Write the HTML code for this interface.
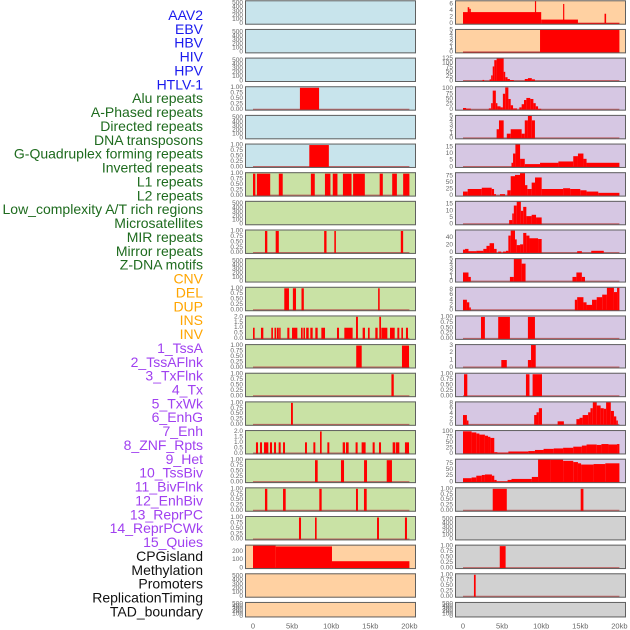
<!DOCTYPE html>
<html><head><meta charset="utf-8"><style>
html,body{margin:0;padding:0;background:#fff;}
svg{display:block;font-family:"Liberation Sans",sans-serif;}
</style></head><body>
<svg id="chart" width="630" height="630" viewBox="0 0 630 630" xmlns="http://www.w3.org/2000/svg"></svg>
<script>
// ---- categories / labels ----
const trackLabels = ["AAV2","EBV","HBV","HIV","HPV","HTLV-1","Alu repeats","A-Phased repeats","Directed repeats","DNA transposons","G-Quadruplex forming repeats","Inverted repeats","L1 repeats","L2 repeats","Low_complexity A/T rich regions","Microsatellites","MIR repeats","Mirror repeats","Z-DNA motifs","CNV","DEL","DUP","INS","INV","1_TssA","2_TssAFlnk","3_TxFlnk","4_Tx","5_TxWk","6_EnhG","7_Enh","8_ZNF_Rpts","9_Het","10_TssBiv","11_BivFlnk","12_EnhBiv","13_ReprPC","14_ReprPCWk","15_Quies","CPGisland","Methylation","Promoters","ReplicationTiming","TAD_boundary"];
const labelGroups = ["virus","virus","virus","virus","virus","virus","repeat","repeat","repeat","repeat","repeat","repeat","repeat","repeat","repeat","repeat","repeat","repeat","repeat","sv","sv","sv","sv","sv","chrom","chrom","chrom","chrom","chrom","chrom","chrom","chrom","chrom","chrom","chrom","chrom","chrom","chrom","chrom","other","other","other","other","other"];
const xTickValues = [0,5,10,15,20];
const xTickLabels = ["0","5kb","10kb","15kb","20kb"];

// ---- tick sets ----
const ticksEmpty = [0,100,200,300,400,500];
const ticksUnit = [0,0.25,0.5,0.75,1];
const ticksTwo = [0,0.5,1,1.5,2];

// ---- series: segments [startKb, endKb, value] ----
const L03 = [[6.0,8.45,1]];
const L05 = [[7.2,9.7,1]];
const L06 = [[0,0.3,1],[0.5,2.2,1],[3.3,3.8,1],[7.4,7.9,1],[9.2,9.9,1],[10.2,10.8,1],[11.5,12.6,1],[12.8,14.3,1],[16.2,16.6,1],[17.8,18.4,1],[19.2,20,1]];
const L08 = [[1.53,1.83,1],[2.9,3.3,1],[9.1,9.4,1],[10.4,10.6,1],[18.9,19.2,1]];
const L10 = [[4.0,4.6,1],[5.1,5.5,1],[6.2,6.5,1],[16.0,16.2,1]];
const L11 = [[0,0.21,1],[1.02,1.32,1],[2.34,2.55,1],[2.75,2.95,1],[3.05,3.3,1],[3.35,3.53,1],[4.39,4.65,1],[4.99,5.67,1],[6.14,6.35,1],[6.45,6.65,1],[6.8,7.12,1],[7.33,7.63,1],[7.97,8.27,1],[8.74,9.21,1],[10.74,11.0,1],[11.68,12.74,1],[13.17,13.42,2],[14.02,14.32,1],[14.7,14.92,1],[15.64,15.94,1],[16.15,16.37,2],[16.41,17.18,1],[17.52,18.12,1],[18.46,18.71,1],[18.97,19.18,1],[19.56,19.82,1]];
const L12 = [[13.2,13.9,1],[19.05,19.95,1]];
const L13 = [[17.7,18.0,1]];
const L14 = [[4.86,5.1,1]];
const L15 = [[0.38,0.64,1],[0.9,1.15,1],[1.41,1.96,1],[2.17,2.43,1],[2.69,2.94,1],[3.28,3.54,1],[3.84,4.09,1],[6.65,6.9,1],[7.72,7.97,1],[8.57,8.78,2],[9.51,9.76,1],[11.47,11.77,1],[11.89,12.23,1],[13.12,13.38,1],[13.89,14.4,1],[15.3,15.56,1],[16.11,16.37,1],[17.86,18.2,1],[18.29,18.71,1],[19.43,19.95,1]];
const L16 = [[7.93,8.27,1],[11.25,11.64,1],[14.2,14.58,1],[17.1,17.77,1]];
const L17 = [[1.53,1.83,1],[3.84,4.18,1],[8.48,8.78,1],[13.17,13.42,1],[14.19,14.54,1]];
const L18 = [[5.88,6.14,1],[7.93,8.14,1],[15.86,16.11,1],[19.43,19.69,1]];
const L19 = [[0,2.9,268],[2.9,10.1,258],[10.1,20,80]];

const R00 = [[0,10,3.5],[10,14.7,1.2],[14.7,20,0.2],[0.6,0.8,5],[0.8,1.0,4.5],[9.2,9.35,7],[12.8,12.95,6],[18.1,18.3,3]];
const R01 = [[0,9.85,0.05],[9.85,20,5.1]];
const R02 = [[2.5,2.7,5],[3.4,3.6,8],[3.6,3.8,30],[3.8,4.0,80],[4.0,4.3,115],[4.3,5.2,127],[5.2,5.4,50],[5.4,5.7,20],[5.7,6.0,10],[6.0,6.5,4],[7.9,8.3,10],[8.3,8.8,15],[8.8,9.2,8]];
const R03 = [[0,0.4,7],[0.4,1.0,4],[3.3,3.6,5],[3.6,3.8,30],[3.8,4.2,90],[4.2,4.4,30],[4.4,4.8,15],[4.8,5.1,10],[5.1,5.4,75],[5.4,5.8,105],[5.8,6.1,50],[6.1,6.4,20],[6.4,6.9,5],[7.2,7.5,10],[7.5,7.8,25],[7.8,8.1,45],[8.1,8.6,55],[8.6,9.0,50],[9.0,9.3,30],[9.3,9.6,15],[9.6,10.0,3]];
const R04 = [[4.3,4.6,2],[4.6,5.2,4],[5.6,6.1,1],[6.1,7.5,2],[7.5,7.9,1],[7.9,8.3,4],[8.3,8.8,5],[8.8,9.2,4]];
const R05 = [[6.2,6.4,3],[6.4,6.7,10],[6.7,7.3,17],[7.3,7.9,6],[7.9,9.85,2],[9.85,12.2,3],[12.2,14.1,4],[14.1,14.7,8],[14.7,15.4,10],[15.4,15.8,6],[15.8,20,3]];
const R06 = [[0,0.6,15],[0.6,2.4,25],[2.4,3.67,30],[3.67,3.97,25],[3.97,4.22,5],[4.73,5.37,5],[5.67,6.1,20],[6.1,6.65,75],[6.65,7.29,80],[7.29,7.93,87],[7.93,8.23,40],[8.23,8.78,25],[8.78,9.21,50],[9.21,10.06,70],[10.06,12.8,25],[12.8,13.7,28],[13.7,15,25],[15,15.8,20],[15.8,17.3,15],[17.3,20,10]];
const R07 = [[5.9,6.3,3],[6.3,6.5,8],[6.5,6.87,14],[6.87,7.4,17],[7.4,7.7,10],[7.7,8.1,13],[8.1,8.78,6],[8.78,9.34,7],[9.34,10.06,5]];
const R08 = [[0,0.26,8],[0.26,0.7,10],[0.7,1.7,4],[1.7,2.6,5],[2.6,3.0,10],[3.0,3.4,18],[3.4,3.97,25],[3.97,4.3,10],[4.5,4.9,3],[5.1,5.5,3],[5.5,5.8,5],[5.8,6.1,45],[6.1,6.65,58],[6.65,6.87,35],[6.87,7.3,20],[7.3,7.7,22],[7.7,8.1,52],[8.1,8.5,45],[8.5,9.6,38],[9.6,10.06,36],[14.6,15.2,4],[16.4,18,5]];
const R09 = [[0,0.7,2],[0.7,1.0,1],[6.0,6.5,1],[6.5,7.5,5.1],[7.5,8.0,4],[14.0,14.5,1],[14.5,15.2,2],[15.2,15.6,1]];
const R10 = [[0,0.5,4],[0.5,0.8,3],[0.8,1.0,1],[14.3,14.6,4],[14.6,15.4,5],[15.4,15.8,3],[15.8,16.5,2],[16.5,17.1,4],[17.1,17.8,5],[17.8,18.4,6],[18.4,19.3,8.7],[19.3,19.7,7],[19.7,20,8.7]];
const R11 = [[2.3,2.8,1],[4.5,6.0,1],[8.3,9.2,1]];
const R12 = [[4.9,5.6,1],[8.3,8.7,1],[8.7,9.3,3.1]];
const R13 = [[0.13,0.55,1],[8.05,8.5,1],[8.9,10.1,1]];
const R14 = [[0,0.5,3.5],[0.5,0.7,1.5],[9.1,9.4,3.5],[9.4,9.7,4.5],[9.7,10.1,6],[12.1,12.9,1.2],[14.5,14.9,2],[14.9,15.3,2.5],[15.3,16.0,3.5],[16.0,16.3,4.5],[16.3,16.6,6],[16.6,17.1,8.2],[17.1,17.6,7],[17.6,18.0,6],[18.0,18.3,5.8],[18.3,18.9,8.2],[18.9,19.3,5],[19.3,19.6,3],[19.6,19.8,1.5]];
const R15 = [[0,1.1,100],[1.1,1.7,95],[1.7,2.1,90],[2.1,2.8,85],[2.8,3.2,80],[3.2,3.5,75],[3.5,4.0,70],[4.0,4.4,5],[4.4,5.8,3],[5.8,8.35,8],[8.35,9.2,10],[9.2,10.3,15],[10.3,11.6,20],[11.6,12.8,22],[12.8,14.1,25],[14.1,15.2,30],[15.2,15.8,35],[15.8,17.1,40],[17.1,17.7,38],[17.7,18.6,42],[18.6,19.7,40],[19.7,20,42]];
const R16 = [[0,1.1,15],[1.1,1.7,18],[1.7,2.4,25],[2.4,2.8,28],[2.8,3.7,30],[3.7,4.0,25],[4.0,4.3,8],[4.3,5.7,2],[5.7,6.2,8],[6.2,8.8,12],[8.8,9.6,20],[9.6,11.2,92],[11.2,12.8,90],[12.8,14.1,85],[14.1,14.7,80],[14.7,15.1,75],[15.1,16.7,70],[16.7,18.2,72],[18.2,20,75]];
const R17 = [[3.8,5.6,1],[15.05,15.4,1]];
const R19 = [[4.7,5.45,1]];
const R20 = [[1.4,1.62,1]];

const BG = {blue:"#c8e4ec",green:"#c9e2a5",peach:"#ffd1a2",purple:"#d6c7e3",grey:"#d1d1d1"};
// [bg, ticks, ymax, series or null]
const leftPanels = [
 ["blue",ticksEmpty,560,null],["blue",ticksEmpty,560,null],["blue",ticksEmpty,560,null],
 ["blue",ticksUnit,1.05,L03],["blue",ticksEmpty,560,null],["blue",ticksUnit,1.05,L05],
 ["green",ticksUnit,1.05,L06],["green",ticksEmpty,560,null],["green",ticksUnit,1.05,L08],
 ["green",ticksEmpty,560,null],["green",ticksUnit,1.05,L10],["green",ticksTwo,2.09,L11],
 ["green",ticksUnit,1.05,L12],["green",ticksUnit,1.05,L13],["green",ticksUnit,1.05,L14],
 ["green",ticksTwo,2.09,L15],["green",ticksUnit,1.05,L16],["green",ticksUnit,1.05,L17],
 ["green",ticksUnit,1.05,L18],["peach",[0,100,200],275,L19],["peach",ticksEmpty,560,null],["peach",ticksEmpty,560,null]
];
const rightPanels = [
 ["peach",[0,2,4,6],7,R00],["peach",[0,1,2,3,4,5],5.15,R01],["purple",[0,25,50,75,100,125],127,R02],
 ["purple",[0,25,50,75,100],109,R03],["purple",[0,1,2,3,4,5],5.15,R04],["purple",[0,5,10,15],17.25,R05],
 ["purple",[0,25,50,75],89,R06],["purple",[0,5,10,15],17.25,R07],["purple",[0,20,40],60,R08],
 ["purple",[0,1,2,3,4,5],5.15,R09],["purple",[0,2,4,6,8],8.9,R10],["purple",ticksUnit,1.05,R11],
 ["purple",[0,1,2,3],3.13,R12],["purple",ticksUnit,1.05,R13],["purple",[0,2,4,6,8],8.35,R14],
 ["purple",[0,25,50,75,100],104,R15],["purple",[0,25,50,75],92,R16],["grey",ticksUnit,1.05,R17],
 ["grey",ticksEmpty,560,null],["grey",ticksUnit,1.05,R19],["grey",ticksUnit,1.05,R20],["grey",ticksEmpty,560,null]
];

const NS = "http://www.w3.org/2000/svg";
const svg = document.getElementById("chart");
function mk(tag, attrs, parent){
  const e = document.createElementNS(NS, tag);
  for (const k in attrs) e.setAttribute(k, attrs[k]);
  (parent||svg).appendChild(e);
  return e;
}
const groupColor = {virus:"#1a1aee",repeat:"#1e6b1e",sv:"#ffa500",chrom:"#a040f0",other:"#111111"};
trackLabels.forEach((t,i)=>{
  const e = mk("text",{x:203,y:15+i*13.87,"text-anchor":"end","dominant-baseline":"central","font-size":"14",fill:groupColor[labelGroups[i]]});
  
  
  e.textContent = t;
});

const PX_PER_KB = 7.82;
function fmtTick(v, ticks){
  const m = Math.max(...ticks);
  if (m === 1) return v.toFixed(2);
  if (m === 2) return v.toFixed(1);
  return String(v);
}
function drawPanel(p, col, row){
  const [bg, ticks, ymax, series] = p;
  const px = col === 0 ? 245 : 455;
  const x0 = col === 0 ? 253 : 463;
  const top = 0.3 + row*28.65;
  const h = row === 21 ? 15.5 : 24.4;
  const bottom = top + h;
  const xs = kb => x0 + kb*PX_PER_KB;
  const ys = v => bottom - 1.2 - Math.min(v,ymax)/ymax*(h-1.6);
  const g = mk("g",{});
  
  
  const r = mk("rect",{x:px,y:top,width:171,height:h,fill:BG[bg]},g);
  
  
  ticks.forEach(v=>{
    const t = mk("text",{x:px-2,y:ys(v),"text-anchor":"end","dominant-baseline":"central","font-size":"6.5",fill:"#666"},g);
    
    
    t.textContent = fmtTick(v, ticks);
  });
  if (series){
    const base = mk("line",{x1:xs(0),x2:xs(20),y1:ys(0),y2:ys(0),stroke:"#b84848","stroke-width":1.5,opacity:0.8},g);
    
    
    series.forEach(s=>{
      const b = mk("rect",{x:xs(s[0]),y:ys(s[2]),width:Math.max(0.8,xs(s[1])-xs(s[0])),height:Math.max(0,ys(0)-ys(s[2])+0.5),fill:"#ff0000"},g);
      
      
    });
  }
  const f = mk("rect",{x:px+0.5,y:top+0.5,width:170,height:h-1,fill:"none",stroke:"#606060","stroke-width":1},g);
  
  
}
leftPanels.forEach((p,i)=>drawPanel(p,0,i));
rightPanels.forEach((p,i)=>drawPanel(p,1,i));

[253,463].forEach(x0=>{
  xTickValues.forEach((v,i)=>{
    const t = mk("text",{x:x0+v*PX_PER_KB,y:626,"text-anchor":"middle","dominant-baseline":"central","font-size":"7.5",fill:"#666"});
    
    
    t.textContent = xTickLabels[i];
  });
});
</script>
</body></html>
